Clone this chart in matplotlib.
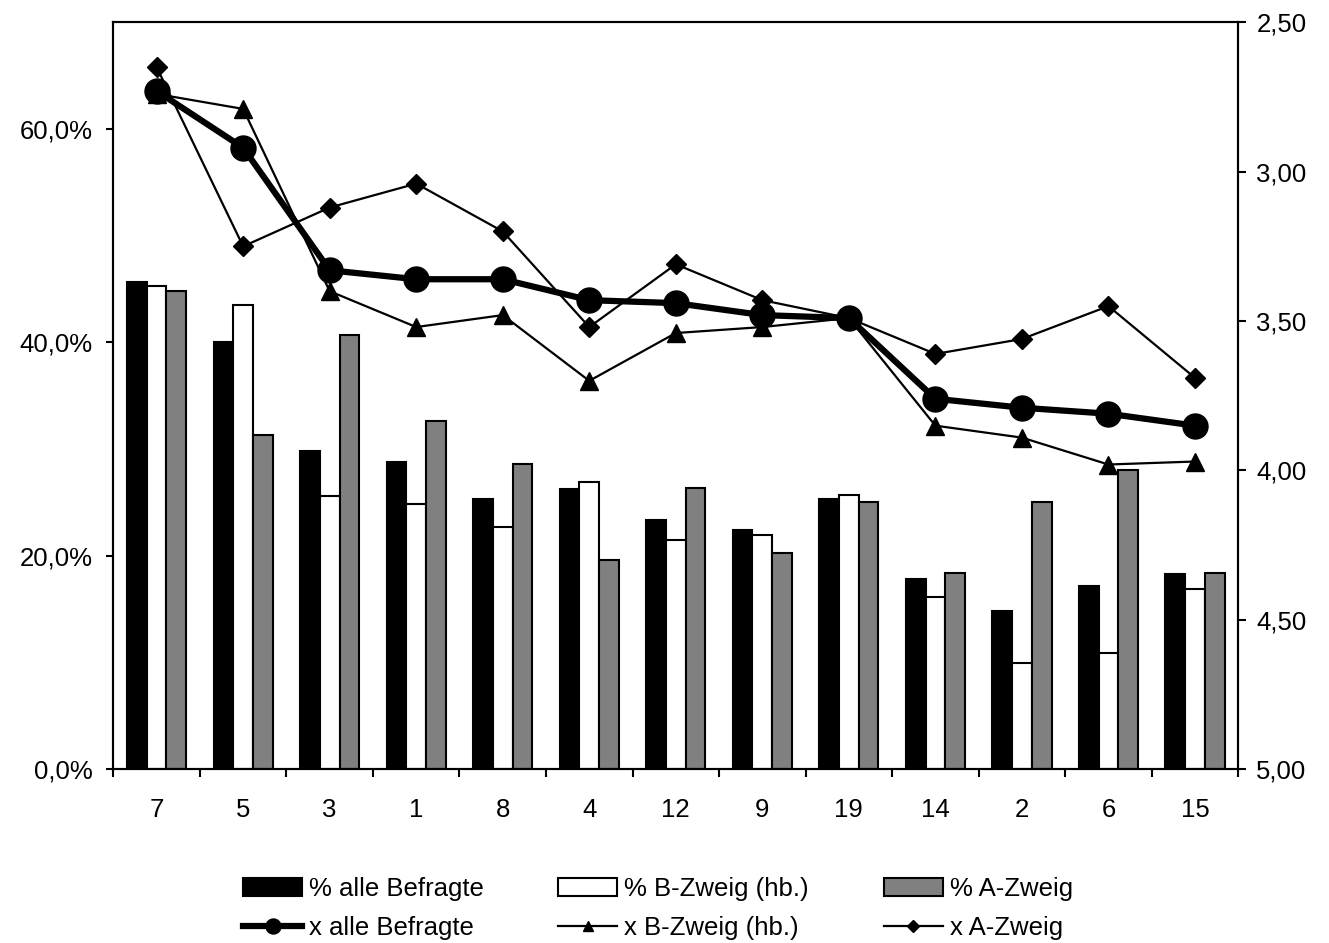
import numpy as np
import matplotlib.pyplot as plt
from matplotlib.ticker import FuncFormatter, FixedLocator

plt.rcParams["font.family"] = ["Liberation Sans", "DejaVu Sans"]

# categories (items, sorted by mean)
categories = ["7", "5", "3", "1", "8", "4", "12", "9", "19", "14", "2", "6", "15"]

# percent values (left axis)
pct_all = [45.7, 40.0, 29.8, 28.8, 25.3, 26.3, 23.4, 22.4, 25.3, 17.8, 14.8, 17.2, 18.3]
pct_b = [45.3, 43.5, 25.6, 24.9, 22.7, 26.9, 21.5, 22.0, 25.7, 16.1, 10.0, 10.9, 16.9]
pct_a = [44.8, 31.3, 40.7, 32.6, 28.6, 19.6, 26.4, 20.3, 25.0, 18.4, 25.0, 28.0, 18.4]

# means (right axis, inverted)
mean_all = [2.73, 2.92, 3.33, 3.36, 3.36, 3.43, 3.44, 3.48, 3.49, 3.76, 3.79, 3.81, 3.85]
mean_b = [2.74, 2.79, 3.40, 3.52, 3.48, 3.70, 3.54, 3.52, 3.49, 3.85, 3.89, 3.98, 3.97]
mean_a = [2.65, 3.25, 3.12, 3.04, 3.20, 3.52, 3.31, 3.43, 3.49, 3.61, 3.56, 3.45, 3.69]

x = np.arange(len(categories))
w = 0.228
fs = 18.5

fig = plt.figure(figsize=(13.29, 9.43), dpi=100)
ax = fig.add_axes([0.0853, 0.1842, 0.8464, 0.7922])

b1 = ax.bar(x - w, pct_all, w, color="black", edgecolor="black", lw=1.5,
            label="% alle Befragte")
b2 = ax.bar(x, pct_b, w, color="white", edgecolor="black", lw=1.5,
            label="% B-Zweig (hb.)")
b3 = ax.bar(x + w, pct_a, w, color="#808080", edgecolor="black", lw=1.5,
            label="% A-Zweig")

ax.set_xlim(-0.5, len(categories) - 0.5)
ax.set_ylim(0, 70)
ax.set_yticks([0, 20, 40, 60])
ax.yaxis.set_major_formatter(FuncFormatter(lambda v, p: f"{v:.1f}%".replace(".", ",")))

# ticks at group borders, labels in the middle
ax.xaxis.set_major_locator(FixedLocator(np.arange(-0.5, len(categories), 1)))
ax.xaxis.set_minor_locator(FixedLocator(x))
ax.set_xticklabels([])
ax.set_xticklabels(categories, minor=True)
ax.tick_params(axis="x", which="major", length=6, width=1.5, direction="out")
ax.tick_params(axis="x", which="minor", length=0, pad=21, labelsize=fs)
ax.tick_params(axis="y", length=5, width=1.5, labelsize=fs, pad=10)
for s in ax.spines.values():
    s.set_linewidth(1.5)

ax2 = ax.twinx()
ax2.set_ylim(5.0, 2.5)
ax2.set_yticks([2.5, 3.0, 3.5, 4.0, 4.5, 5.0])
ax2.yaxis.set_major_formatter(FuncFormatter(lambda v, p: f"{v:.2f}".replace(".", ",")))
ax2.tick_params(axis="y", length=6, width=1.5, labelsize=fs, pad=7)
for s in ax2.spines.values():
    s.set_linewidth(1.5)

l2, = ax2.plot(x, mean_b, color="black", lw=1.6, marker="^", ms=13,
               label="x B-Zweig (hb.)")
l3, = ax2.plot(x, mean_a, color="black", lw=1.6, marker="D", ms=10,
               label="x A-Zweig")
l1, = ax2.plot(x, mean_all, color="black", lw=4.5, marker="o", ms=18,
               label="x alle Befragte")

handles = [b1, l1, b2, l2, b3, l3]
leg = fig.legend(handles, [h.get_label() for h in handles], ncol=3,
                 loc="center", bbox_to_anchor=(0.495, 0.0365), frameon=False,
                 fontsize=fs, handlelength=2.3, handletextpad=0.27,
                 columnspacing=2.9, labelspacing=0.6, markerscale=0.6)

plt.savefig("out.png", dpi=100)
